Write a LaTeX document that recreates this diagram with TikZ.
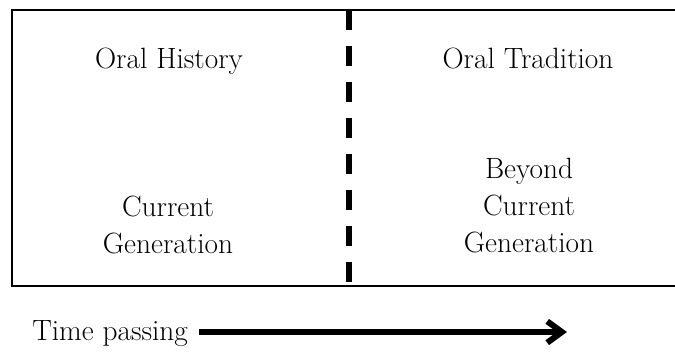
\documentclass[tikz,border=0pt]{standalone}
\usepackage{tikz}
\usetikzlibrary{arrows.meta}

\begin{document}
\begin{tikzpicture}[x=0.75pt,y=-0.75pt]
		\tikzset{txt/.style = {align=center,inner sep=0pt,font=\fontsize{22}{27.75}\selectfont}}
		\tikzset{arr/.style = {line width=4.5pt,-{Straight Barb[length=11pt,width=16pt]}}}
		\useasboundingbox (0,0) rectangle (675,351);
		% frame, its right side lies past the page edge
		\draw[line width=1.2pt] (678,10) -| (12,286) -- (678,286);
		\coordinate (divtop) at (349,10);
		\coordinate (divbot) at (349,286);
		\draw[line width=4.5pt,dash pattern=on 15pt off 12pt] (divtop) -- (divbot);
			\node[txt,anchor=base] (oh) at (169,68) {Oral History};
			\node[txt,anchor=base] (ot) at (528,68) {Oral Tradition};
			\node[txt] (cg) at (168,225) {Current\\Generation};
			\node[txt] (bcg) at (529,206) {Beyond\\Current\\Generation};
			\node[txt,anchor=base west] (tp) at (32,340) {Time passing};
		\coordinate (tip) at (567,332);
		\draw[arr] ([xshift=8pt]tp.east |- tip) -- (tip);
\end{tikzpicture}
\end{document}
